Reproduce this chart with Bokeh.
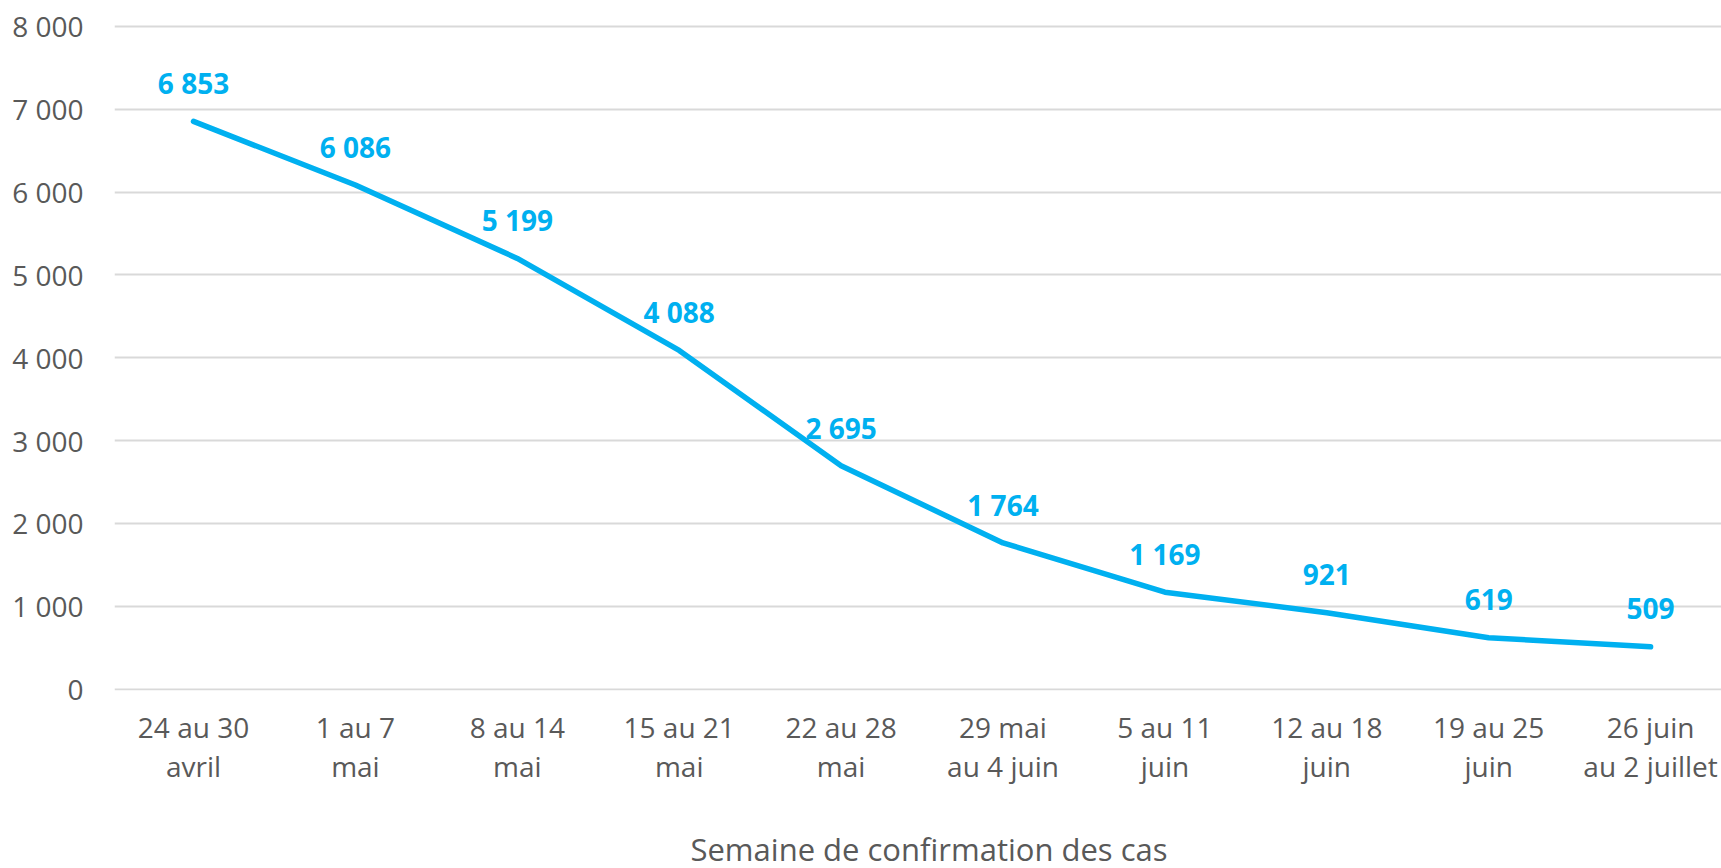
from bokeh.plotting import figure
from bokeh.models import ColumnDataSource, Range1d, FixedTicker, Div
from bokeh.layouts import column
from bokeh.core.properties import value
from bokeh.embed import file_html
from bokeh.resources import INLINE

weeks = ["24 au 30\navril", "1 au 7\nmai", "8 au 14\nmai", "15 au 21\nmai", "22 au 28\nmai",
         "29 mai\nau 4 juin", "5 au 11\njuin", "12 au 18\njuin", "19 au 25\njuin", "26 juin\nau 2 juillet"]
cases = [6853, 6086, 5199, 4088, 2695, 1764, 1169, 921, 619, 509]
case_labels = ["6 853", "6 086", "5 199", "4 088", "2 695", "1 764", "1 169", "921", "619", "509"]
y_ticks = [0, 1000, 2000, 3000, 4000, 5000, 6000, 7000, 8000]
y_tick_labels = ["0", "1 000", "2 000", "3 000", "4 000", "5 000", "6 000", "7 000", "8 000"]
x_title = "Semaine de confirmation des cas"

FONT = "Open Sans"
BLUE = "#00B0F0"
GREY = "#595959"

xs = list(range(len(weeks)))
src = ColumnDataSource(dict(x=xs, y=cases, lab=case_labels))

p = figure(width=1721, height=830, output_backend="svg", toolbar_location=None,
           x_range=Range1d(-0.488, 9.438), y_range=Range1d(-18, 8313),
           min_border_left=114, min_border_right=0, min_border_top=0, min_border_bottom=140)
p.outline_line_color = None
p.background_fill_color = "white"
p.border_fill_color = "white"

p.line("x", "y", source=src, line_color=BLUE, line_width=5.5, line_join="round", line_cap="round")
p.text("x", "y", text="lab", source=src, text_font=value(FONT), text_font_style="bold",
       text_font_size="28px", text_color=BLUE, text_align="center", text_baseline="middle",
       y_offset=-38)

# y axis
p.yaxis.ticker = FixedTicker(ticks=y_ticks)
p.yaxis.major_label_overrides = {t: l for t, l in zip(y_ticks, y_tick_labels)}
p.yaxis.axis_line_color = None
p.yaxis.major_tick_line_color = None
p.yaxis.minor_tick_line_color = None
p.yaxis.major_tick_out = 0
p.yaxis.major_label_standoff = 31
p.yaxis.major_label_text_font = FONT
p.yaxis.major_label_text_font_size = "28px"
p.yaxis.major_label_text_color = GREY

# x axis
p.xaxis.ticker = FixedTicker(ticks=xs)
p.xaxis.major_label_overrides = {i: w for i, w in zip(xs, weeks)}
p.xaxis.axis_line_color = None
p.xaxis.major_tick_line_color = None
p.xaxis.minor_tick_line_color = None
p.xaxis.major_tick_out = 0
p.xaxis.major_label_standoff = 17
p.xaxis.major_label_text_font = FONT
p.xaxis.major_label_text_font_size = "28px"
p.xaxis.major_label_text_color = GREY
p.xaxis.major_label_text_line_height = 1.05

p.xgrid.grid_line_color = None
p.ygrid.ticker = FixedTicker(ticks=y_ticks)
p.ygrid.grid_line_color = "#D9D9D9"
p.ygrid.grid_line_width = 2

# axis title, as a text line under the chart
title_div = Div(
    text=('<div style="position:relative; left:137px; width:1584px; text-align:center; '
          f'font-family:\'{FONT}\'; font-size:31px; line-height:38px; color:{GREY}; '
          f'white-space:nowrap;">{x_title}</div>'),
    width=1721, height=38, margin=0)

layout = column(p, title_div, spacing=0)
open("out.html", "w").write(file_html(layout, INLINE))
